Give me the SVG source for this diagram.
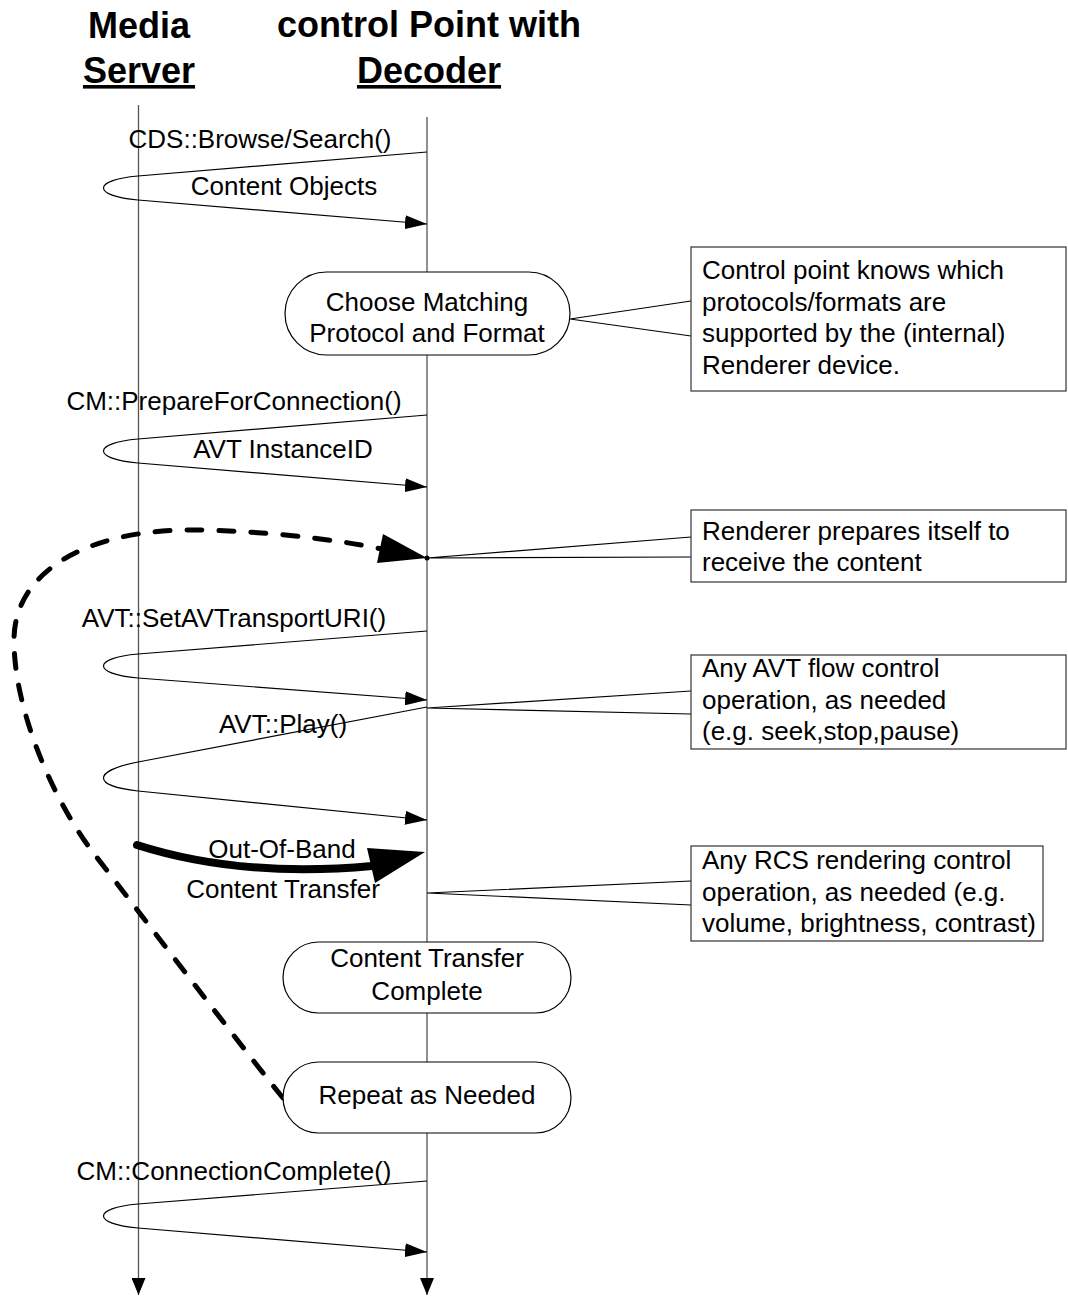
<svg xmlns="http://www.w3.org/2000/svg" width="1068" height="1296" viewBox="0 0 1068 1296">
<style>
text{font-family:"Liberation Sans",Arial,sans-serif;font-size:26px;fill:#000}
.hdr{font-size:36px;font-weight:bold;text-anchor:middle}
.mid{text-anchor:middle}
.life{stroke:#555;stroke-width:1.3;fill:none}
.msg{stroke:#000;stroke-width:1.2;fill:none;marker-end:url(#ah)}
.node{fill:#fff;stroke:#000;stroke-width:1.2}
.note{fill:#fff;stroke:#333;stroke-width:1.2}
.conn{stroke:#000;stroke-width:1.2;fill:none}
</style>
<defs>
<marker id="ah" markerUnits="userSpaceOnUse" markerWidth="22" markerHeight="14" refX="22" refY="7" orient="auto" viewBox="0 0 22 14"><path d="M0 0 L22 7 L0 14 z" fill="#000"/></marker>
<marker id="lah" markerUnits="userSpaceOnUse" markerWidth="17" markerHeight="14" refX="17" refY="7" orient="auto" viewBox="0 0 17 14"><path d="M0 0 L17 7 L0 14 z" fill="#000"/></marker>
</defs>

<g id="headers">
<text class="hdr" x="139" y="38">Media</text>
<text class="hdr" x="139" y="83" text-decoration="underline">Server</text>
<text class="hdr" x="429" y="37">control Point with</text>
<text class="hdr" x="429" y="83" text-decoration="underline">Decoder</text>
</g>

<g id="lifelines">
<line id="lifeline-server" class="life" x1="138.5" y1="105" x2="138.5" y2="1295" marker-end="url(#lah)"/>
<line id="lifeline-cp" class="life" x1="427" y1="117" x2="427" y2="1295" marker-end="url(#lah)"/>
</g>

<g id="connectors">
<path class="msg" d="M427 152 L138 176 C92 180 92 196 138 200 L427 224"/>
<path class="msg" d="M427 415 L138 439 C92 443 92 459 138 463 L427 487"/>
<path class="msg" d="M427 631 L138 654 C92 658 92 674 138 678 L427 700"/>
<path class="msg" d="M427 707 L138 762 C92 771 92 786 138 791 L427 820"/>
<path class="msg" d="M427 1181 L138 1204 C92 1208 92 1224 138 1228 L427 1252"/>
<path d="M137 845 Q240 878 372 866" stroke="#000" stroke-width="8" stroke-linecap="round" fill="none"/>
<polygon points="425,852 367,848 375,883" fill="#000"/>
<path d="M283 1098 C240 1045 130 900 95 855 C58 808 14 715 14 640 C14 570 90 530 190 530 C250 530 330 538 382 549" stroke="#000" stroke-width="5" stroke-linecap="round" stroke-dasharray="15 17" fill="none"/>
<polygon points="427,558 383,534 377,563" fill="#000"/>
<circle cx="427" cy="558" r="2.5" fill="#000"/>
<path class="conn" d="M691 301 L570 319 L691 336"/>
<path class="conn" d="M691 537 L427 558 L691 557"/>
<path class="conn" d="M691 691 L427 708 L691 714"/>
<path class="conn" d="M691 881 L427 893 L691 905"/>
</g>

<g id="labels">
<text class="mid" x="260" y="148">CDS::Browse/Search()</text>
<text class="mid" x="284" y="195">Content Objects</text>
<text class="mid" x="234" y="410">CM::PrepareForConnection()</text>
<text class="mid" x="283" y="458">AVT InstanceID</text>
<text class="mid" x="234" y="627">AVT::SetAVTransportURI()</text>
<text class="mid" x="283" y="733">AVT::Play()</text>
<text class="mid" x="282" y="858">Out-Of-Band</text>
<text class="mid" x="283" y="898">Content Transfer</text>
<text class="mid" x="234" y="1180">CM::ConnectionComplete()</text>
</g>

<g id="node-choose">
<rect class="node" x="285" y="272" width="285" height="83" rx="41.5"/>
<text class="mid" x="427" y="311">Choose Matching</text>
<text class="mid" x="427" y="342">Protocol and Format</text>
</g>

<g id="node-complete">
<rect class="node" x="283" y="942" width="288" height="71" rx="35.5"/>
<text class="mid" x="427" y="967">Content Transfer</text>
<text class="mid" x="427" y="1000">Complete</text>
</g>

<g id="node-repeat">
<rect class="node" x="283" y="1062" width="288" height="71" rx="35.5"/>
<text class="mid" x="427" y="1104">Repeat as Needed</text>
</g>

<g id="note-protocols">
<rect class="note" x="691" y="247" width="375" height="144"/>
<text x="702" y="279">Control point knows which</text>
<text x="702" y="311">protocols/formats are</text>
<text x="702" y="342">supported by the (internal)</text>
<text x="702" y="374">Renderer device.</text>
</g>

<g id="note-renderer">
<rect class="note" x="691" y="510" width="375" height="72"/>
<text x="702" y="540">Renderer prepares itself to</text>
<text x="702" y="571">receive the content</text>
</g>

<g id="note-avt">
<rect class="note" x="691" y="655" width="375" height="94"/>
<text x="702" y="677">Any AVT flow control</text>
<text x="702" y="709">operation, as needed</text>
<text x="702" y="740">(e.g. seek,stop,pause)</text>
</g>

<g id="note-rcs">
<rect class="note" x="691" y="846" width="352" height="95"/>
<text x="702" y="869">Any RCS rendering control</text>
<text x="702" y="901">operation, as needed (e.g.</text>
<text x="702" y="932">volume, brightness, contrast)</text>
</g>
</svg>
